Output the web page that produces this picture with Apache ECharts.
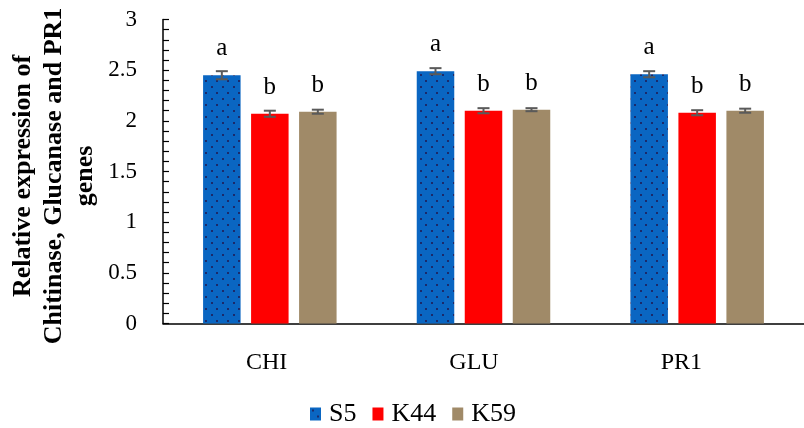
<!DOCTYPE html>
<html>
<head>
<meta charset="utf-8">
<script src="https://cdn.jsdelivr.net/npm/echarts@6/dist/echarts.min.js"></script>
<style>html,body{margin:0;padding:0;background:#fff}#c{width:804px;height:428px}</style>
</head>
<body>
<div id="c"></div>
<script>
const categories = ['CHI', 'GLU', 'PR1'];
const seriesNames = ['S5', 'K44', 'K59'];
const s5 = [2.45, 2.49, 2.46];
const k44 = [2.07, 2.10, 2.08];
const k59 = [2.09, 2.11, 2.10];
const s5Err = [0.04, 0.03, 0.03];
const k44Err = [0.03, 0.025, 0.025];
const k59Err = [0.02, 0.015, 0.02];
const s5Letters = ['a', 'a', 'a'];
const k44Letters = ['b', 'b', 'b'];
const k59Letters = ['b', 'b', 'b'];
const yTicks = { min: 0, max: 3, tickStep: 0.1, labelStep: 0.5 };

const values = [s5, k44, k59];
const errs = [s5Err, k44Err, k59Err];
const letters = [s5Letters, k44Letters, k59Letters];

// dotted pattern for S5
const pc = document.createElement('canvas');
pc.width = 11; pc.height = 12;
const g = pc.getContext('2d');
g.fillStyle = '#0A66C2'; g.fillRect(0, 0, 11, 12);
g.fillStyle = '#1B2A6B';
g.fillRect(2, 2, 2, 2);
g.fillRect(7, 8, 2, 2);

const colors = [{ image: pc, repeat: 'repeat' }, '#FF0000', '#A08A68'];
const serif = '"Liberation Serif", "Times New Roman", serif';
const BAR_W = 37.5, BAR_STEP = 48;

const chart = echarts.init(document.getElementById('c'), null, { renderer: 'canvas' });

const series = [];
seriesNames.forEach((name, i) => {
  series.push({
    name: name,
    type: 'bar',
    data: values[i],
    barWidth: BAR_W,
    barGap: '28%',
    itemStyle: { color: colors[i] },
    label: {
      show: true, position: 'top', distance: 14,
      formatter: p => letters[i][p.dataIndex],
      fontFamily: serif, fontSize: 25, color: '#000'
    },
    z: 2
  });
});
seriesNames.forEach((name, i) => {
  series.push({
    type: 'custom',
    name: name + ' err',
    data: values[i].map((v, k) => [k, v - errs[i][k], v + errs[i][k]]),
    encode: { x: 0, y: [1, 2] },
    z: 5,
    silent: true,
    renderItem: function (params, api) {
      const c = api.value(0);
      const lo = api.coord([c, api.value(1)]);
      const hi = api.coord([c, api.value(2)]);
      const x = lo[0] + (i - 1) * BAR_STEP;
      const hw = 6;
      const st = { stroke: '#5A5A5A', lineWidth: 2 };
      return {
        type: 'group',
        children: [
          { type: 'line', shape: { x1: x, y1: lo[1], x2: x, y2: hi[1] }, style: st },
          { type: 'line', shape: { x1: x - hw, y1: lo[1], x2: x + hw, y2: lo[1] }, style: st },
          { type: 'line', shape: { x1: x - hw, y1: hi[1], x2: x + hw, y2: hi[1] }, style: st }
        ]
      };
    }
  });
});

function isLabelTick(v) {
  const r = v / yTicks.labelStep;
  return Math.abs(r - Math.round(r)) < 1e-6;
}

chart.setOption({
  animation: false,
  backgroundColor: '#fff',
  grid: [
    { left: 163, top: 19.5, width: 649, height: 304, containLabel: false },
    { left: 163, top: 19.5, width: 622, height: 304, containLabel: false }
  ],
  legend: {
    data: seriesNames,
    left: 305, top: 396,
    itemWidth: 11, itemHeight: 13, itemGap: 16,
    icon: 'rect',
    textStyle: { fontFamily: serif, fontSize: 26, color: '#000', padding: [0, 0, 0, 3] }
  },
  xAxis: [{
    type: 'category',
    gridIndex: 0,
    data: categories,
    axisLine: { lineStyle: { color: '#000', width: 1.5 } },
    axisTick: { show: false },
    axisLabel: { show: false }
  }, {
    type: 'category',
    gridIndex: 1,
    data: categories,
    axisLine: { show: false },
    axisTick: { show: false },
    axisLabel: { fontFamily: serif, fontSize: 24, color: '#000', margin: 27 }
  }],
  yAxis: [{
    type: 'value',
    gridIndex: 0,
    min: yTicks.min, max: yTicks.max, interval: yTicks.tickStep,
    axisLine: { show: true, lineStyle: { color: '#000', width: 1.5 } },
    axisTick: { show: true, inside: true, length: 6, lineStyle: { color: '#000', width: 1.2 } },
    splitLine: { show: false },
    axisLabel: {
      fontFamily: serif, fontSize: 23, color: '#000', margin: 26,
      formatter: v => isLabelTick(v) ? String(+v.toFixed(1)) : ''
    }
  }, {
    type: 'value',
    gridIndex: 1,
    min: yTicks.min, max: yTicks.max,
    show: false
  }],
  graphic: [{
    type: 'text',
    x: 54, y: 176,
    rotation: Math.PI / 2,
    style: {
      text: 'Relative expression of\nChitinase, Glucanase and PR1\ngenes',
      font: 'bold 26px ' + serif,
      lineHeight: 31,
      fill: '#000',
      textAlign: 'center',
      textVerticalAlign: 'middle'
    }
  }],
  series: series
});
</script>
</body>
</html>
